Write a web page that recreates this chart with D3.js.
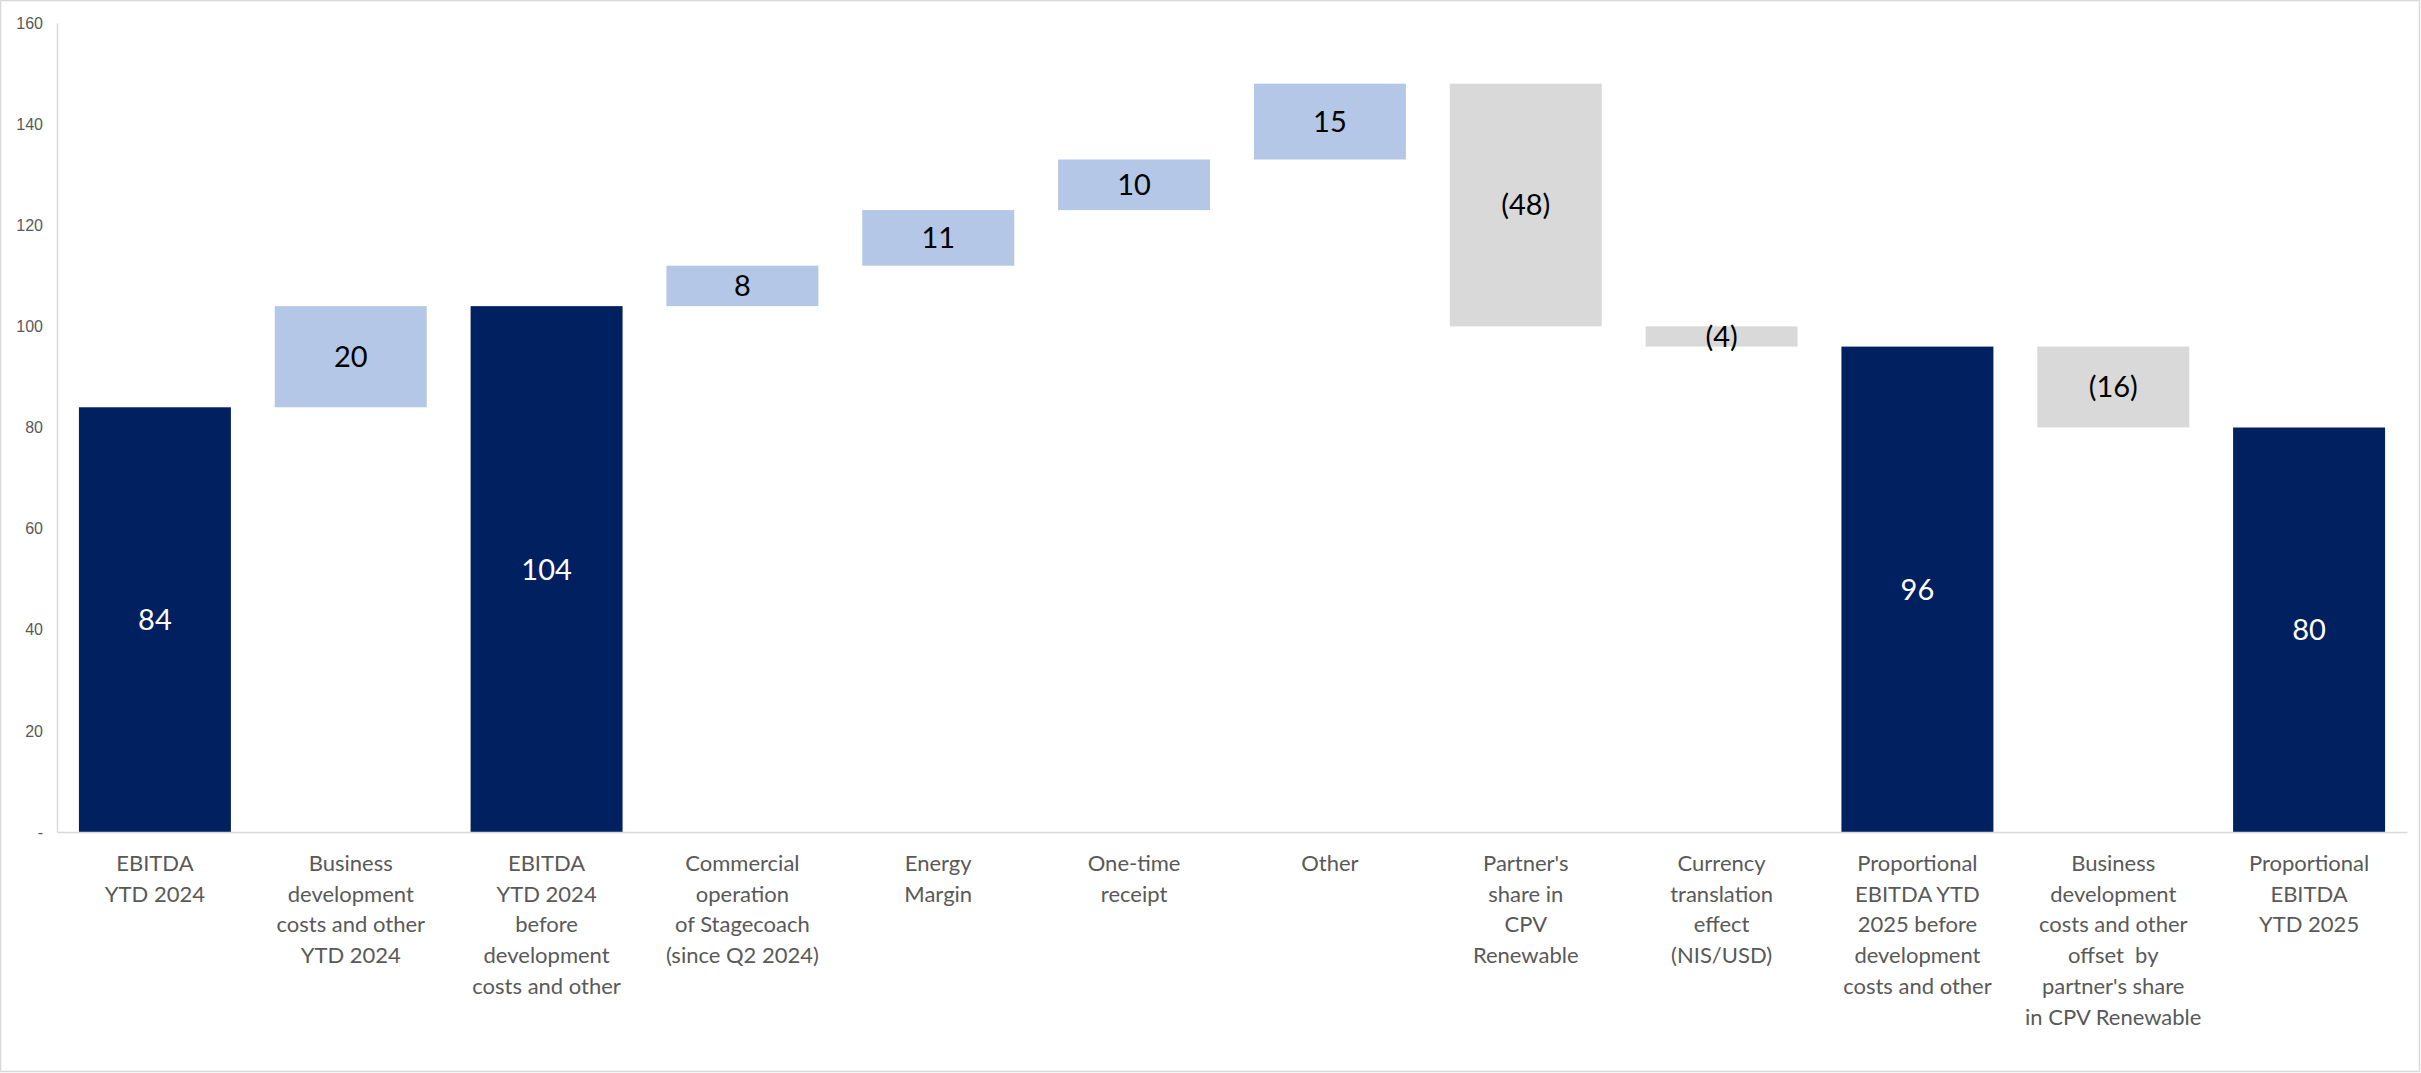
<!DOCTYPE html>
<html>
<head>
<meta charset="utf-8">
<script src="https://cdn.jsdelivr.net/npm/d3@7"></script>
<style>
  html, body { margin: 0; padding: 0; background: #fff; }
  svg { display: block; }
</style>
</head>
<body>
<svg id="chart" width="2421" height="1073"></svg>
<script>
const categories = [
  "EBITDA\nYTD 2024",
  "Business\ndevelopment\ncosts and other\nYTD 2024",
  "EBITDA\nYTD 2024\nbefore\ndevelopment\ncosts and other",
  "Commercial\noperation\nof Stagecoach\n(since Q2 2024)",
  "Energy\nMargin",
  "One-time\nreceipt",
  "Other",
  "Partner's\nshare in\nCPV\nRenewable",
  "Currency\ntranslation\neffect\n(NIS/USD)",
  "Proportional\nEBITDA YTD\n2025 before\ndevelopment\ncosts and other",
  "Business\ndevelopment\ncosts and other\noffset  by\npartner's share\nin CPV Renewable",
  "Proportional\nEBITDA\nYTD 2025"
];
const values = [84, 20, 104, 8, 11, 10, 15, -48, -4, 96, -16, 80];
const kinds = ["total", "up", "total", "up", "up", "up", "up", "down", "down", "total", "down", "total"];
const valueLabels = ["84", "20", "104", "8", "11", "10", "15", "(48)", "(4)", "96", "(16)", "80"];
const yTicks = [0, 20, 40, 60, 80, 100, 120, 140, 160];

const colors = { total: "#002060", up: "#B4C7E7", down: "#D9D9D9" };

const W = 2421, H = 1073;
const margin = { left: 57, right: 14, top: 23, bottom: 241 };
const svg = d3.select("#chart");

// border
svg.append("rect").attr("x", 0.5).attr("y", 0.5).attr("width", W - 2).attr("height", H - 2)
  .attr("fill", "#fff").attr("stroke", "#D9D9D9").attr("stroke-width", 1.5);

const x = d3.scaleBand().domain(d3.range(categories.length))
  .range([margin.left, W - margin.right]).paddingInner(0.224).paddingOuter(0.112);
const y = d3.scaleLinear().domain([0, 160]).range([H - margin.bottom, margin.top]);

// compute waterfall segments
let running = 0;
const bars = values.map((v, i) => {
  let lo, hi;
  if (kinds[i] === "total") { lo = 0; hi = v; running = v; }
  else { const start = running; running = start + v; lo = Math.min(start, running); hi = Math.max(start, running); }
  return { i, lo, hi, kind: kinds[i], label: valueLabels[i] };
});

// y axis
const yAxis = d3.axisLeft(y).tickValues(yTicks).tickSize(0).tickPadding(14)
  .tickFormat(d => d === 0 ? "-" : d);
const gy = svg.append("g").attr("transform", `translate(${margin.left},0)`).call(yAxis);
gy.select(".domain").attr("stroke", "#D9D9D9").attr("stroke-width", 1.5);
gy.selectAll("text").attr("fill", "#595959").style("font-family", "'Liberation Sans', Arial, sans-serif").style("font-size", "16px");

// bars
svg.append("g").selectAll("rect").data(bars).join("rect")
  .attr("x", d => x(d.i)).attr("width", x.bandwidth())
  .attr("y", d => y(d.hi)).attr("height", d => y(d.lo) - y(d.hi))
  .attr("fill", d => colors[d.kind]);

// x axis
const xAxis = d3.axisBottom(x).tickSize(0).tickFormat("");
const gx = svg.append("g").attr("transform", `translate(0,${y(0)})`).call(xAxis);
gx.select(".domain").attr("stroke", "#D9D9D9").attr("stroke-width", 1.5);

// value labels
svg.append("g").selectAll("text").data(bars).join("text")
  .attr("x", d => x(d.i) + x.bandwidth() / 2)
  .attr("y", d => y((d.lo + d.hi) / 2))
  .attr("dy", "0.36em")
  .attr("text-anchor", "middle")
  .attr("fill", d => d.kind === "total" ? "#ffffff" : "#000000")
  .style("font-family", "Lato, 'Open Sans', sans-serif")
  .style("font-size", "29px")
  .text(d => d.label);

// category labels
const catG = svg.append("g");
categories.forEach((c, i) => {
  const t = catG.append("text")
    .attr("x", x(i) + x.bandwidth() / 2)
    .attr("y", 871)
    .attr("text-anchor", "middle")
    .attr("fill", "#595959")
    .style("font-family", "Lato, 'Open Sans', sans-serif")
    .style("font-size", "22px");
  c.split("\n").forEach((line, k) => {
    t.append("tspan").attr("x", x(i) + x.bandwidth() / 2).attr("dy", k === 0 ? 0 : 30.7)
      .style("white-space", "pre").text(line);
  });
});
</script>
</body>
</html>
